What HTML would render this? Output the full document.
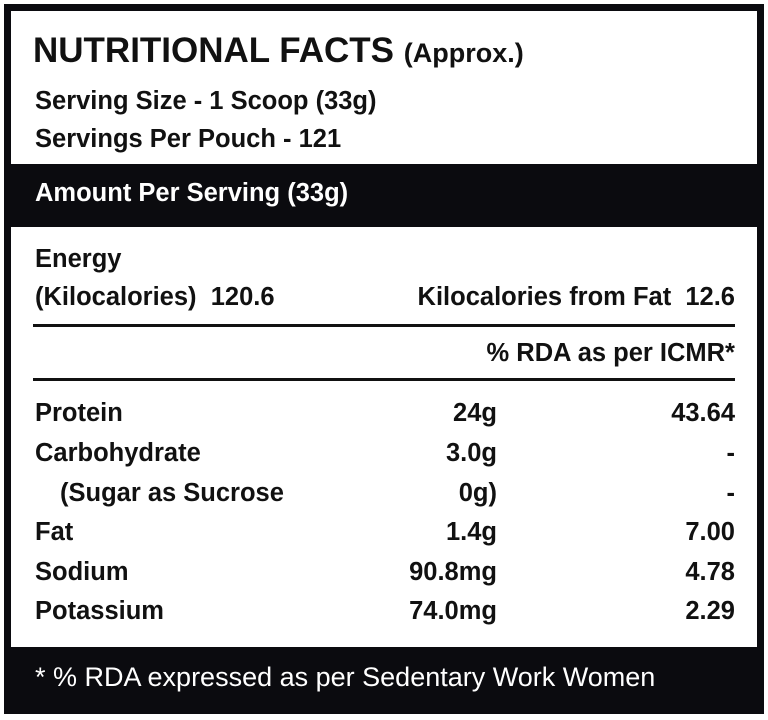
<!DOCTYPE html>
<html><head><meta charset="utf-8"><style>
html,body{margin:0;padding:0;background:#fff;}
#root{position:relative;width:768px;height:720px;overflow:hidden;background:#fff;font-family:"Liberation Sans",sans-serif;color:#111;}
.t{position:absolute;line-height:1;white-space:nowrap;font-size:25.5px;font-weight:bold;}
.r{text-align:right;}
.band{position:absolute;left:4px;width:760px;background:#0b0b0f;}
.rule{position:absolute;left:33px;width:702px;height:3px;background:#111;}
</style></head><body>
<div id="root">
  <div style="position:absolute;left:4px;top:4px;width:746px;height:695px;border:7px solid #0b0b0f;"></div>
  <div class="t" style="left:33px;top:33px;font-size:35px;">NUTRITIONAL FACTS <span style="font-size:27px;">(Approx.)</span></div>
  <div class="t" style="left:35px;top:89px;">Serving Size - 1 Scoop (33g)</div>
  <div class="t" style="left:35px;top:127px;">Servings Per Pouch - 121</div>
  <div class="band" style="top:164px;height:63px;"></div>
  <div class="t" style="left:35px;top:181px;color:#fff;">Amount Per Serving (33g)</div>
  <div class="t" style="left:35px;top:247px;">Energy</div>
  <div class="t" style="left:35px;top:285px;">(Kilocalories)&nbsp; 120.6</div>
  <div class="t r" style="right:33px;top:285px;">Kilocalories from Fat&nbsp; 12.6</div>
  <div class="rule" style="top:324px;"></div>
  <div class="t r" style="right:33px;top:341px;">% RDA as per ICMR*</div>
  <div class="rule" style="top:378px;"></div>

  <div class="t" style="left:35px;top:401px;">Protein</div>
  <div class="t r" style="right:271px;top:401px;">24g</div>
  <div class="t r" style="right:33px;top:401px;">43.64</div>

  <div class="t" style="left:35px;top:441px;">Carbohydrate</div>
  <div class="t r" style="right:271px;top:441px;">3.0g</div>
  <div class="t r" style="right:33px;top:441px;">-</div>

  <div class="t" style="left:60px;top:481px;">(Sugar as Sucrose</div>
  <div class="t r" style="right:271px;top:481px;">0g)</div>
  <div class="t r" style="right:33px;top:481px;">-</div>

  <div class="t" style="left:35px;top:520px;">Fat</div>
  <div class="t r" style="right:271px;top:520px;">1.4g</div>
  <div class="t r" style="right:33px;top:520px;">7.00</div>

  <div class="t" style="left:35px;top:560px;">Sodium</div>
  <div class="t r" style="right:271px;top:560px;">90.8mg</div>
  <div class="t r" style="right:33px;top:560px;">4.78</div>

  <div class="t" style="left:35px;top:599px;">Potassium</div>
  <div class="t r" style="right:271px;top:599px;">74.0mg</div>
  <div class="t r" style="right:33px;top:599px;">2.29</div>

  <div class="band" style="top:647px;height:67px;"></div>
  <div class="t" style="left:35px;top:664px;color:#fff;font-weight:normal;font-size:27px;">* % RDA expressed as per Sedentary Work Women</div>
</div>
</body></html>
